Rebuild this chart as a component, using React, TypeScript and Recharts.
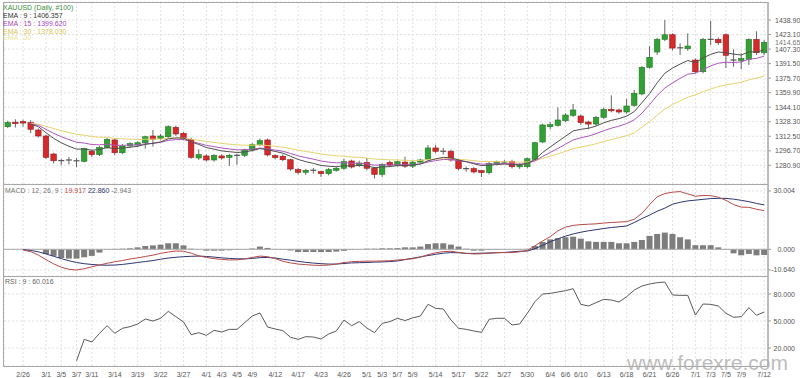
import React from 'react';
import { ComposedChart, Bar, Line, XAxis, YAxis, CartesianGrid, ReferenceLine } from 'recharts';

const dates = [
  '2/22', '2/25', '2/26', '2/27', '2/28', '3/1', '3/4', '3/5', '3/6', '3/7',
  '3/8', '3/11', '3/12', '3/13', '3/14', '3/15', '3/18', '3/19', '3/20', '3/21',
  '3/22', '3/25', '3/26', '3/27', '3/28', '3/29', '4/1', '4/2', '4/3', '4/4',
  '4/5', '4/8', '4/9', '4/10', '4/11', '4/12', '4/15', '4/16', '4/17', '4/18',
  '4/22', '4/23', '4/24', '4/25', '4/26', '4/29', '4/30', '5/1', '5/2', '5/3',
  '5/6', '5/7', '5/8', '5/9', '5/10', '5/13', '5/14', '5/15', '5/16', '5/17',
  '5/20', '5/21', '5/22', '5/23', '5/24', '5/27', '5/28', '5/29', '5/30', '5/31',
  '6/3', '6/4', '6/5', '6/6', '6/7', '6/10', '6/11', '6/12', '6/13', '6/14',
  '6/17', '6/18', '6/19', '6/20', '6/21', '6/24', '6/25', '6/26', '6/27', '6/28',
  '7/1', '7/2', '7/3', '7/4', '7/5', '7/8', '7/9', '7/10', '7/11', '7/12',
];

const tickDates = [
  '2/26', '3/1', '3/5', '3/7', '3/11', '3/14', '3/19', '3/22', '3/27', '4/1', '4/3', '4/5', '4/9',
  '4/12', '4/17', '4/23', '4/26', '5/1', '5/3', '5/7', '5/9', '5/14', '5/17', '5/22', '5/27', '5/30',
  '6/4', '6/6', '6/10', '6/13', '6/18', '6/21', '6/26', '7/1', '7/3', '7/5', '7/9', '7/12',
];

const opens = [
  1322.9, 1327.8, 1328.5, 1327.3, 1319.3, 1312.8, 1293.2, 1286.5, 1286.0, 1286.3,
  1285.3, 1296.2, 1292.5, 1300.5, 1308.5, 1294.6, 1302.0, 1303.0, 1305.5, 1312.8,
  1309.9, 1312.0, 1322.3, 1315.7, 1309.2, 1288.9, 1291.1, 1286.7, 1291.1, 1289.6,
  1291.5, 1291.8, 1297.6, 1303.3, 1308.5, 1291.4, 1290.7, 1287.0, 1276.2, 1273.3,
  1275.7, 1274.0, 1271.8, 1275.5, 1277.7, 1285.6, 1280.5, 1284.1, 1277.7, 1271.1,
  1284.1, 1281.1, 1284.4, 1280.0, 1284.4, 1287.4, 1299.8, 1296.5, 1296.2, 1286.7,
  1277.0, 1277.3, 1275.1, 1272.9, 1283.0, 1284.7, 1285.3, 1279.4, 1279.4, 1287.4,
  1306.3, 1322.9, 1324.4, 1329.4, 1335.3, 1334.5, 1328.0, 1325.8, 1333.1, 1341.8,
  1341.1, 1338.9, 1346.2, 1358.5, 1387.5, 1404.1, 1417.9, 1422.9, 1408.9, 1407.7,
  1395.4, 1382.7, 1418.2, 1417.9, 1422.9, 1395.6, 1394.9, 1396.2, 1417.9, 1403.3,
];

const highs = [
  1329.4, 1331.0, 1330.5, 1330.0, 1321.0, 1314.0, 1294.5, 1288.0, 1290.0, 1289.0,
  1300.0, 1298.0, 1302.0, 1311.0, 1310.0, 1304.0, 1306.0, 1307.0, 1313.0, 1319.3,
  1315.0, 1324.5, 1324.0, 1317.0, 1311.0, 1298.3, 1293.0, 1293.0, 1293.0, 1293.5,
  1293.5, 1299.0, 1305.0, 1310.0, 1310.0, 1293.0, 1293.0, 1288.0, 1278.0, 1277.0,
  1278.0, 1275.0, 1278.0, 1279.5, 1288.0, 1287.0, 1286.0, 1288.9, 1279.0, 1283.0,
  1286.0, 1286.0, 1290.3, 1286.0, 1288.0, 1303.0, 1303.3, 1299.8, 1298.0, 1288.0,
  1279.5, 1279.0, 1276.0, 1284.5, 1286.0, 1286.7, 1287.0, 1283.0, 1289.5, 1306.5,
  1326.0, 1328.0, 1344.0, 1337.5, 1347.6, 1336.0, 1329.5, 1334.5, 1343.5, 1357.0,
  1342.5, 1353.3, 1362.8, 1389.0, 1410.6, 1419.5, 1438.9, 1424.5, 1413.6, 1424.4,
  1397.0, 1419.5, 1438.1, 1420.0, 1424.5, 1407.0, 1402.7, 1419.0, 1426.6, 1417.2,
];

const lows = [
  1321.5, 1322.0, 1323.0, 1316.0, 1311.0, 1288.0, 1283.0, 1281.0, 1282.0, 1279.0,
  1284.0, 1290.0, 1291.0, 1299.0, 1292.0, 1293.0, 1300.0, 1301.0, 1299.0, 1301.2,
  1308.0, 1310.5, 1313.0, 1308.0, 1288.0, 1286.7, 1285.0, 1285.0, 1287.0, 1280.2,
  1281.6, 1290.0, 1296.0, 1302.0, 1290.5, 1287.5, 1285.5, 1275.0, 1271.0, 1270.5,
  1272.0, 1268.2, 1270.0, 1274.0, 1276.0, 1277.5, 1279.0, 1275.5, 1266.5, 1268.0,
  1279.0, 1279.5, 1278.0, 1278.0, 1283.0, 1286.0, 1294.0, 1292.5, 1285.0, 1275.5,
  1274.0, 1272.0, 1268.2, 1271.0, 1281.0, 1283.0, 1277.5, 1277.0, 1277.5, 1286.0,
  1305.0, 1320.1, 1323.0, 1328.0, 1333.5, 1325.0, 1320.1, 1324.0, 1331.5, 1338.5,
  1337.0, 1337.0, 1344.5, 1357.0, 1386.0, 1401.0, 1416.0, 1406.0, 1400.8, 1405.5,
  1381.0, 1381.0, 1411.7, 1412.0, 1386.7, 1388.1, 1385.3, 1390.0, 1401.0, 1401.0,
];

const closes = [
  1327.3, 1326.5, 1327.0, 1320.1, 1312.8, 1289.6, 1285.9, 1286.0, 1286.7, 1285.8,
  1299.0, 1292.5, 1300.5, 1309.2, 1294.6, 1301.9, 1304.5, 1305.5, 1312.0, 1309.2,
  1312.8, 1322.9, 1315.0, 1309.9, 1289.6, 1292.5, 1286.7, 1291.8, 1288.9, 1291.8,
  1291.8, 1297.6, 1303.3, 1307.7, 1292.2, 1289.2, 1287.0, 1276.9, 1273.3, 1275.5,
  1275.5, 1271.8, 1276.2, 1277.7, 1284.9, 1279.1, 1283.4, 1277.7, 1271.1, 1281.9,
  1281.1, 1284.8, 1280.0, 1284.4, 1286.7, 1299.8, 1296.2, 1296.2, 1286.7, 1277.3,
  1277.3, 1273.7, 1272.9, 1282.7, 1284.6, 1284.5, 1279.4, 1280.9, 1288.1, 1305.5,
  1324.8, 1325.1, 1330.2, 1335.6, 1341.1, 1327.3, 1325.8, 1333.1, 1341.8, 1340.3,
  1338.9, 1345.4, 1359.2, 1387.5, 1398.4, 1417.9, 1422.9, 1408.4, 1408.7, 1410.6,
  1382.7, 1417.9, 1417.9, 1414.2, 1400.5, 1395.4, 1397.0, 1417.9, 1403.3, 1414.65,
];

const ema9 = [
  null, null, null,
  1325.5, 1323.0, 1316.3, 1310.2, 1305.4, 1301.6, 1298.5, 1298.6, 1297.4, 1298.0,
  1300.2, 1299.1, 1299.7, 1300.6, 1301.6, 1303.7, 1304.8, 1306.4, 1309.7, 1310.7,
  1310.6, 1306.4, 1303.6, 1300.2, 1298.5, 1296.6, 1295.7, 1294.9, 1295.4, 1297.0,
  1299.1, 1297.8, 1296.0, 1294.2, 1290.8, 1287.3, 1284.9, 1283.0, 1280.8, 1279.9,
  1279.4, 1280.5, 1280.2, 1280.9, 1280.2, 1278.4, 1279.1, 1279.5, 1280.6, 1280.5,
  1281.3, 1282.3, 1285.8, 1287.9, 1289.6, 1289.0, 1286.7, 1284.8, 1282.6, 1280.6,
  1281.0, 1281.8, 1282.3, 1281.7, 1281.6, 1282.9, 1287.4, 1294.9, 1300.9, 1306.8,
  1312.5, 1318.3, 1320.1, 1321.2, 1323.6, 1327.2, 1329.8, 1331.7, 1334.4, 1339.4,
  1349.0, 1358.9, 1370.7, 1381.1, 1386.6, 1391.0, 1394.9, 1392.5, 1397.6, 1401.6,
  1404.1, 1403.4, 1401.8, 1400.9, 1404.3, 1404.1, 1406.36,
];

const ema15 = [
  null, null, null,
  1326.0, 1324.4, 1320.0, 1315.7, 1312.0, 1308.9, 1306.0, 1305.1, 1303.5, 1303.2,
  1303.9, 1302.8, 1302.6, 1302.9, 1303.2, 1304.3, 1304.9, 1305.9, 1308.0, 1308.9,
  1309.0, 1306.6, 1304.8, 1302.6, 1301.2, 1299.7, 1298.7, 1297.8, 1297.8, 1298.5,
  1299.7, 1298.7, 1297.5, 1296.2, 1293.8, 1291.2, 1289.3, 1287.6, 1285.6, 1284.4,
  1283.6, 1283.7, 1283.2, 1283.2, 1282.5, 1281.1, 1281.2, 1281.2, 1281.6, 1281.4,
  1281.8, 1282.4, 1284.6, 1286.0, 1287.3, 1287.2, 1286.0, 1284.9, 1283.5, 1282.2,
  1282.3, 1282.5, 1282.8, 1282.4, 1282.2, 1282.9, 1285.7, 1290.6, 1294.9, 1299.3,
  1303.9, 1308.5, 1310.9, 1312.7, 1315.3, 1318.6, 1321.3, 1323.5, 1326.3, 1330.4,
  1337.5, 1347.0, 1357.0, 1365.0, 1370.5, 1375.5, 1380.0, 1381.0, 1385.0, 1389.0,
  1392.0, 1393.0, 1392.7, 1393.3, 1396.4, 1397.2, 1399.62,
];

const ema30 = [
  null, null, null,
  1326.5, 1325.6, 1323.3, 1320.9, 1318.6, 1316.6, 1314.6, 1313.6, 1312.2, 1311.5,
  1311.3, 1310.2, 1309.7, 1309.4, 1309.1, 1309.3, 1309.3, 1309.5, 1310.4, 1310.7,
  1310.6, 1309.3, 1308.2, 1306.8, 1305.8, 1304.8, 1303.9, 1303.1, 1302.8, 1302.8,
  1303.1, 1302.4, 1301.6, 1300.6, 1299.1, 1297.4, 1296.0, 1294.7, 1293.2, 1292.1,
  1291.2, 1290.8, 1290.0, 1289.6, 1288.8, 1287.7, 1287.3, 1286.9, 1286.8, 1286.3,
  1286.2, 1286.2, 1287.1, 1287.7, 1288.3, 1288.2, 1287.5, 1286.8, 1286.0, 1285.1,
  1285.0, 1284.9, 1284.9, 1284.6, 1284.3, 1284.6, 1285.9, 1288.4, 1290.8, 1293.3,
  1296.1, 1299.0, 1300.8, 1302.4, 1304.4, 1306.8, 1309.0, 1310.9, 1313.1, 1316.1,
  1322.5, 1328.5, 1335.5, 1342.0, 1347.0, 1351.0, 1355.0, 1357.5, 1361.0, 1364.0,
  1366.5, 1368.3, 1369.8, 1371.3, 1373.8, 1375.8, 1378.03,
];

const macdLine = [
  null, null,
  -0.4, -1.2, -3.0, -5.3, -7.5, -9.2, -10.3, -10.64,
  -10.0, -9.0, -8.1, -7.2, -6.4, -5.8, -5.0, -4.4, -3.7, -3.0,
  -2.1, -1.4, -0.9, -1.0, -2.0, -3.4, -4.2, -4.8, -5.2, -5.5,
  -5.4, -5.0, -4.2, -3.5, -3.8, -4.8, -6.2, -7.0, -7.6, -7.9,
  -8.2, -8.3, -8.1, -7.6, -6.8, -6.4, -6.2, -6.1, -6.1, -6.0,
  -5.9, -5.5, -5.2, -4.9, -4.0, -2.8, -1.8, -1.2, -1.0, -1.6,
  -2.1, -2.4, -2.3, -2.0, -1.7, -1.7, -1.7, -1.3, -0.6, 1.8,
  4.3, 6.5, 9.5, 11.4, 12.3, 12.7, 12.9, 13.1, 13.5, 13.8,
  14.0, 14.2, 15.5, 18.5, 23.0, 27.0, 28.7, 29.4, 29.7, 28.5,
  27.3, 27.7, 27.6, 26.8, 25.2, 23.0, 21.7, 21.6, 20.6, 19.917,
];

const signalLine = [
  null, null,
  -0.2, -0.6, -1.3, -2.4, -3.6, -4.8, -5.9, -6.8,
  -7.4, -7.8, -8.1, -8.2, -8.1, -7.8, -7.3, -6.8, -6.3, -5.8,
  -5.1, -4.5, -4.1, -3.8, -3.6, -3.5, -3.7, -4.0, -4.4, -4.7,
  -4.9, -4.9, -4.7, -4.3, -4.2, -4.5, -5.1, -5.6, -6.2, -6.7,
  -7.1, -7.4, -7.6, -7.6, -7.3, -7.0, -6.9, -6.8, -6.6, -6.5,
  -6.3, -6.0, -5.3, -4.6, -3.9, -3.2, -2.6, -2.0, -1.7, -1.8,
  -2.1, -2.1, -2.0, -1.9, -1.8, -1.6, -1.3, -1.0, -0.9, 0.3,
  2.0, 3.9, 5.4, 6.8, 7.9, 8.8, 9.5, 10.1, 10.7, 11.2,
  11.6, 12.0, 13.8, 15.8, 17.6, 19.6, 21.2, 23.2, 24.2, 24.9,
  25.3, 25.7, 26.1, 26.2, 26.2, 25.8, 25.2, 24.5, 23.6, 22.86,
];

const macdHist = [
  null, null, null, null, null,
  -2.4, -3.4, -4.5, -4.8, -4.8,
  -4.1, -3.4, -1.7, 0.1, 0.2, 0.3, 0.5, 1.0, 1.7, 2.0,
  2.4, 3.1, 3.1, 2.0, 0.3, 0.1, -0.7, -0.7, -0.7, -0.5,
  -0.2, 0.1, 0.4, 1.4, 0.7, 0.1, -0.2, -0.6, -1.4, -1.4,
  -1.4, -1.4, -1.4, -1.2, -0.8, -0.3, 0.1, 0.3, 0.3, 0.5,
  0.5, 0.6, 1.0, 1.0, 1.4, 2.7, 3.1, 3.1, 2.4, 1.4,
  0.3, -0.7, -0.7, -0.3, -0.2, 0.1, 0.0, 0.1, 0.2, 1.7,
  3.8, 5.1, 5.7, 6.2, 6.5, 5.5, 4.1, 3.8, 3.8, 3.8,
  3.1, 3.1, 3.8, 4.8, 6.9, 7.9, 8.6, 7.9, 6.2, 5.1,
  2.1, 2.1, 2.1, 1.0, -0.3, -2.1, -3.1, -2.4, -3.1, -2.943,
];

const rsi9 = [
  null, null, null, null, null, null, null, null, null,
  5.9,
  29.6, 26.7, 36.3, 44.8, 36.3, 41.9, 43.7, 46.7, 52.2, 50.0,
  53.0, 60.7, 54.8, 48.9, 34.8, 37.0, 34.1, 39.6, 37.8, 40.7,
  40.7, 48.1, 55.6, 58.9, 43.3, 41.1, 39.3, 31.9, 29.6, 32.6,
  32.2, 30.0, 35.6, 38.9, 51.1, 44.8, 49.3, 42.2, 37.0, 47.4,
  49.3, 53.0, 50.5, 53.5, 55.5, 68.5, 64.1, 63.3, 51.1, 41.9,
  40.7, 38.9, 37.4, 51.9, 53.0, 53.0, 45.6, 46.7, 58.5, 71.5,
  80.0, 80.7, 82.2, 83.7, 85.9, 68.5, 66.7, 70.4, 74.1, 73.3,
  71.1, 77.0, 84.4, 88.9, 91.1, 92.6, 93.3, 78.9, 78.5, 78.5,
  56.7, 68.9, 68.5, 66.7, 58.5, 54.1, 54.8, 64.8, 56.3, 60.016,
];

const priceTicks = [1280.9, 1296.7, 1312.5, 1328.3, 1344.1, 1359.9, 1375.7, 1391.5, 1407.3, 1423.1, 1438.9];
const macdTicks = [-10.64, 0, 30.004];
const rsiTicks = [20, 50, 80];
const lastPrice = 1414.65;

const FONT = '"Liberation Sans", Arial, Helvetica, sans-serif';
const UP = '#33a035';
const UP_EDGE = '#1f7a22';
const DOWN = '#d42a2c';
const DOWN_EDGE = '#9e1a1c';
const GRID = '#e0e0e0';
const BORDER = '#a8a8a8';

const rows = dates.map((date, i) => ({
  date,
  open: opens[i],
  high: highs[i],
  low: lows[i],
  close: closes[i],
  range: [lows[i], highs[i]],
  ema9: ema9[i],
  ema15: ema15[i],
  ema30: ema30[i],
  macd: macdLine[i],
  signal: signalLine[i],
  hist: macdHist[i],
  rsi: rsi9[i],
}));

const Candle = (props: any) => {
  const { x, y, width, height, payload } = props;
  if (!payload || x == null || y == null) return null;
  const { open, close, high, low } = payload;
  const top = Math.min(y, y + height);
  const h = Math.abs(height);
  const span = high - low || 1;
  const toY = (v: number) => top + ((high - v) / span) * h;
  const cx = x + width / 2;
  const yo = toY(open);
  const yc = toY(close);
  const bw = 5.5;
  const flat = Math.abs(close - open) < 0.8;
  const up = close >= open;
  return (
    <g>
      <line x1={cx} x2={cx} y1={top} y2={top + h} stroke="#666" strokeWidth={1} />
      {flat ? (
        <line x1={cx - 3} x2={cx + 3} y1={yc} y2={yc} stroke="#555" strokeWidth={1.2} />
      ) : (
        <rect
          x={cx - bw / 2}
          y={Math.min(yo, yc)}
          width={bw}
          height={Math.max(Math.abs(yc - yo), 1.5)}
          fill={up ? UP : DOWN}
          stroke={up ? UP_EDGE : DOWN_EDGE}
          strokeWidth={0.6}
        />
      )}
    </g>
  );
};

const RightTick = (props: any) => {
  const { x, y, payload, digits, alignEnd } = props;
  return (
    <text
      x={alignEnd ? x + 20 : x}
      y={y}
      dy={2.5}
      textAnchor={alignEnd ? 'end' : 'start'}
      fontSize={7}
      fill="#555"
      fontFamily={FONT}
    >
      {Number(payload.value).toFixed(digits)}
    </text>
  );
};

const yAxisCommon = {
  orientation: 'right' as const,
  width: 32,
  allowDataOverflow: true,
  axisLine: { stroke: BORDER },
  tickLine: { stroke: '#999' },
  tickSize: 3,
  tickMargin: 4,
  interval: 0 as const,
};

export default function App() {
  return (
    <div style={{ position: 'absolute', left: 0, top: 0, width: 800, height: 378, background: '#fff', overflow: 'hidden' }}>
      <div style={{ position: 'absolute', left: 0, top: 0 }}>
        <ComposedChart width={800} height={186} data={rows} margin={{ top: 2, right: 0, bottom: 2, left: 4 }}>
          <CartesianGrid stroke={GRID} strokeDasharray="2 2" />
          <XAxis dataKey="date" scale="band" ticks={tickDates} interval={0} hide />
          <YAxis
            {...yAxisCommon}
            domain={[1260.6, 1458.5]}
            ticks={priceTicks}
            tick={(p: any) => <RightTick {...p} digits={2} />}
          />
          <Bar dataKey="range" isAnimationActive={false} shape={(p: any) => <Candle {...p} />} />
          <Line dataKey="ema30" stroke="#e6d36c" strokeWidth={1} dot={false} isAnimationActive={false} />
          <Line dataKey="ema15" stroke="#b055c0" strokeWidth={1} dot={false} isAnimationActive={false} />
          <Line dataKey="ema9" stroke="#505050" strokeWidth={1} dot={false} isAnimationActive={false} />
          <ReferenceLine
            y={lastPrice}
            stroke="none"
            label={{ value: lastPrice.toFixed(2), position: 'right', offset: 7, fontSize: 7, fill: '#777', fontFamily: FONT }}
          />
        </ComposedChart>
      </div>

      <div style={{ position: 'absolute', left: 0, top: 184 }}>
        <ComposedChart width={800} height={92} data={rows} margin={{ top: 0, right: 0, bottom: 0, left: 4 }} barCategoryGap="10%">
          <CartesianGrid stroke={GRID} strokeDasharray="2 2" />
          <XAxis dataKey="date" scale="band" ticks={tickDates} interval={0} hide />
          <YAxis
            {...yAxisCommon}
            domain={[-13.74, 33.6]}
            ticks={macdTicks}
            tick={(p: any) => <RightTick {...p} digits={3} alignEnd />}
          />
          <ReferenceLine y={0} stroke="#aaa" />
          <Bar dataKey="hist" fill="#7d7d7d" isAnimationActive={false} />
          <Line dataKey="signal" stroke="#2e3572" strokeWidth={1} dot={false} isAnimationActive={false} />
          <Line dataKey="macd" stroke="#b94a48" strokeWidth={1} dot={false} isAnimationActive={false} />
        </ComposedChart>
      </div>

      <div style={{ position: 'absolute', left: 0, top: 276 }}>
        <ComposedChart width={800} height={102} data={rows} margin={{ top: 0, right: 0, bottom: 0, left: 4 }}>
          <CartesianGrid stroke={GRID} strokeDasharray="2 2" />
          <XAxis
            dataKey="date"
            scale="band"
            ticks={tickDates}
            interval={0}
            height={12}
            axisLine={false}
            tickLine={false}
            tickSize={4}
            tickMargin={2}
            tick={{ fontSize: 7, fill: '#555', fontFamily: FONT }}
          />
          <YAxis
            {...yAxisCommon}
            domain={[0, 100]}
            ticks={rsiTicks}
            tick={(p: any) => <RightTick {...p} digits={3} alignEnd />}
          />
          <Line dataKey="rsi" stroke="#5a5a5a" strokeWidth={1} dot={false} isAnimationActive={false} />
        </ComposedChart>
      </div>

      <svg width={800} height={378} style={{ position: 'absolute', left: 0, top: 0, pointerEvents: 'none' }}>
        <rect x={3.5} y={2.5} width={764.5} height={364} fill="none" stroke={BORDER} />
        <line x1={3.5} x2={768} y1={184.5} y2={184.5} stroke={BORDER} />
        <line x1={3.5} x2={768} y1={276.5} y2={276.5} stroke={BORDER} />

        <g fontFamily={FONT} fontSize={7}>
          <text x={3} y={9.5} fill="#3c8f3c">XAUUSD (Daily, #100)</text>
          <text x={3} y={17.8} fill="#333">EMA : 9 : 1406.357</text>
          <text x={3} y={26.1} fill="#a544b5">EMA : 15 : 1399.620</text>
          <text x={3} y={34} fill="#d9c556">EMA : 30 : 1378.030</text>
          <text x={3} y={39.5} fill="#e9df9c">EMA : 30</text>

          <text x={5} y={192.5} fill="#777">
            MACD : 12, 26, 9 :{' '}
            <tspan fill="#b94a48">19.917</tspan>
            <tspan fill="#2e3572"> 22.860</tspan>
            <tspan fill="#777"> -2.943</tspan>
          </text>

          <text x={5} y={283.5} fill="#666">RSI : 9 : 60.016</text>
        </g>

        <text x={627} y={370} fontFamily={FONT} fontSize={21} fill="#b0b0b0" fillOpacity={0.85}>
          www.forexre.com
        </text>
      </svg>
    </div>
  );
}
